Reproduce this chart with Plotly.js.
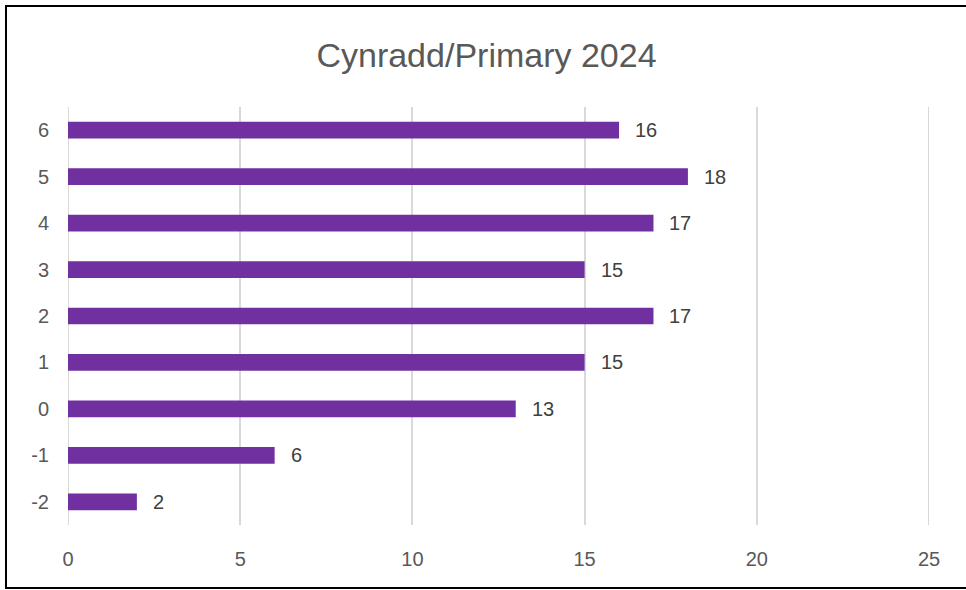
<!DOCTYPE html>
<html>
<head>
<meta charset="utf-8">
<script src="https://cdn.plot.ly/plotly-3.0.1.min.js"></script>
<style>
html,body{margin:0;padding:0;background:#fff;}
#chart{position:absolute;left:0;top:0;width:966px;height:590px;}
#frame{position:absolute;left:5px;top:5px;width:980px;height:580px;border-left:2px solid #000;border-top:2px solid #000;border-bottom:2px solid #000;pointer-events:none;}
</style>
</head>
<body>
<div id="chart"></div>
<div id="frame"></div>
<script>
const categories = ["-2","-1","0","1","2","3","4","5","6"];
const values = [2, 6, 13, 15, 17, 15, 17, 18, 16];
const xTicks = [0, 5, 10, 15, 20, 25];
const titleText = "Cynradd/Primary 2024";

const trace = {
  type: 'bar',
  orientation: 'h',
  x: values,
  y: categories,
  marker: {color: '#7030A0'},
  hoverinfo: 'none'
};

const annotations = values.map((v, i) => ({
  x: v, y: i, xref: 'x', yref: 'y',
  text: String(v), showarrow: false,
  xanchor: 'left', yanchor: 'middle', xshift: 14,
  font: {family: 'Liberation Sans, Arial, sans-serif', size: 20, color: '#404040'}
}));

// edge gridlines (Plotly omits gridlines exactly on the range boundaries)
const edgeGrid = [xTicks[0], xTicks[xTicks.length - 1]].map(t => ({
  type: 'line', xref: 'x', yref: 'paper', x0: t, x1: t, y0: 0, y1: 1,
  layer: 'below', line: {color: '#d9d9d9', width: 2}
}));

const layout = {
  width: 966, height: 590,
  paper_bgcolor: '#fff', plot_bgcolor: '#fff',
  margin: {l: 68, r: 37, t: 107, b: 65, pad: 0},
  showlegend: false,
  bargap: 0.64,
  title: {
    text: titleText,
    x: 486.5/966, xanchor: 'center', xref: 'container',
    y: 1 - 55/590, yanchor: 'middle', yref: 'container',
    font: {family: 'Liberation Sans, Arial, sans-serif', size: 34, color: '#595959'}
  },
  xaxis: {
    range: [0, 25],
    tickvals: xTicks,
    ticktext: xTicks.map(String),
    showgrid: true, gridcolor: '#d9d9d9', gridwidth: 2,
    zeroline: false, showline: false,
    ticks: '', ticklabelstandoff: 20,
    tickfont: {family: 'Liberation Sans, Arial, sans-serif', size: 20, color: '#595959'},
    fixedrange: true
  },
  yaxis: {
    type: 'category',
    categoryorder: 'array', categoryarray: categories,
    range: [-0.5, categories.length - 0.5],
    showgrid: false, zeroline: false, showline: false,
    ticks: '', ticklabelstandoff: 18,
    tickfont: {family: 'Liberation Sans, Arial, sans-serif', size: 20, color: '#595959'},
    fixedrange: true
  },
  shapes: edgeGrid,
  annotations: annotations
};

Plotly.newPlot('chart', [trace], layout, {displayModeBar: false, staticPlot: true});
</script>
</body>
</html>
